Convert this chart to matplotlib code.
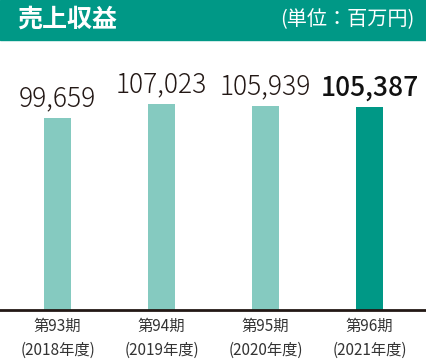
import matplotlib.pyplot as plt
from matplotlib.patches import Rectangle

plt.rcParams['font.family'] = ['Noto Sans CJK JP', 'DejaVu Sans']

periods = ["第93期", "第94期", "第95期", "第96期"]
years = ["(2018年度)", "(2019年度)", "(2020年度)", "(2021年度)"]
revenue = [99659, 107023, 105939, 105387]

light = "#85CAC0"
dark = "#009886"
colors = [light, light, light, dark]

W, H = 426, 359
fig = plt.figure(figsize=(W / 100, H / 100), dpi=100)

# header band
fig.patches.append(Rectangle((0, 1 - 40 / H), 1, 40 / H, transform=fig.transFigure,
                             color=dark, zorder=0))
fig.text(17 / W, 1 - 20 / H, "売上収益", color="white", fontsize=18,
         fontweight="bold", va="center", ha="left")
fig.text(414 / W, 1 - 20 / H, "(単位：百万円)", color="white", fontsize=14.5,
         va="center", ha="right")

ax = fig.add_axes([0, (H - 310) / H, 1, (310 - 40) / H])
x = range(len(revenue))
ax.bar(x, revenue, width=27 / 104, color=colors, zorder=2)
ax.set_xlim(-57.5 / 104, (W - 57.5) / 104)
ax.set_ylim(0, 270 / 0.001926)

for i, v in enumerate(revenue):
    last = i == len(revenue) - 1
    ax.annotate(f"{v:,}", (i, v), xytext=(0, 4), textcoords="offset points",
                ha="center", va="bottom", fontsize=19,
                fontweight="medium" if last else "light",
                color="#111111" if last else "#231815")

for s in ["top", "right", "left"]:
    ax.spines[s].set_visible(False)
ax.spines["bottom"].set_color("#231815")
ax.spines["bottom"].set_linewidth(2)
ax.set_yticks([])
ax.set_xticks(list(x))
ax.set_xticklabels([f"{p}\n{y}" for p, y in zip(periods, years)],
                   fontsize=11, color="#333333", linespacing=1.5)
ax.tick_params(axis="x", length=0, pad=6)

fig.savefig("out.png", dpi=100)
